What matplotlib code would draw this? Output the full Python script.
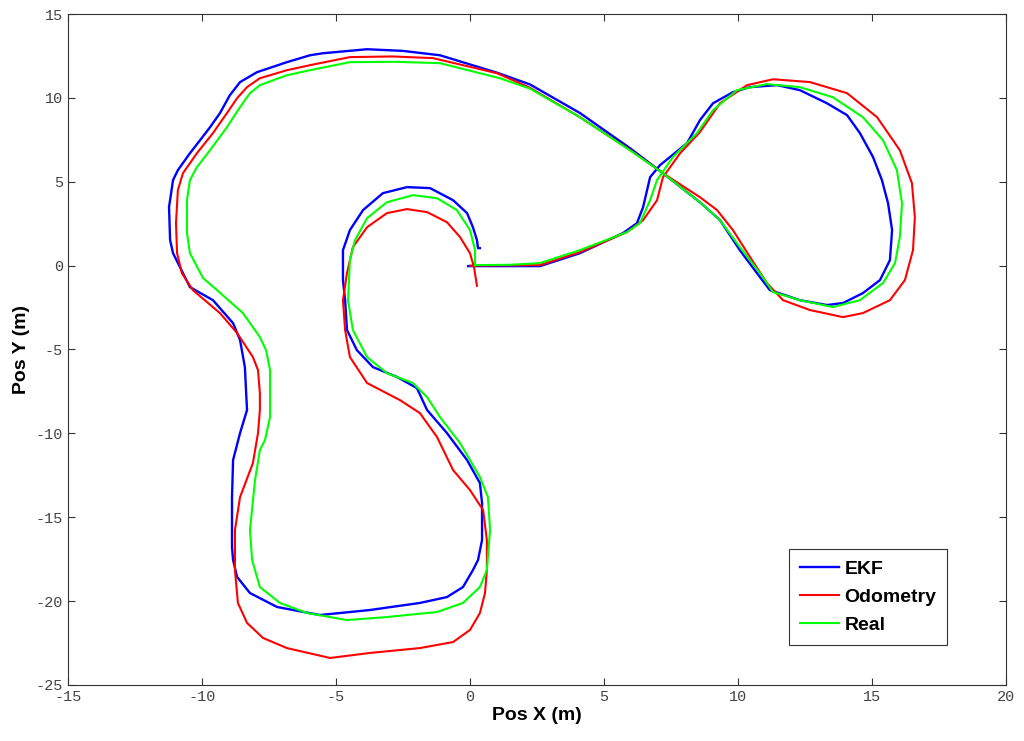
import matplotlib
matplotlib.use("Agg")
import matplotlib.pyplot as plt

plt.rcParams['axes.unicode_minus'] = False

# trajectories (metres)
real_x = [0.19, 1.5, 2.61, 4.1, 5.86, 6.34, 6.72, 6.98, 7.57, 8.47, 9.07, 9.96, 11.08, 12.31, 13.54,
          14.66, 15.41, 15.93, 16.12, 16.04, 15.86, 15.41, 14.55, 13.54, 12.31, 11.31, 10.82, 10.07,
          9.33, 8.58, 7.2, 5.97, 4.1, 2.24, 1.12, -1.12, -2.8, -4.48, -5.97, -6.83, -7.84, -8.21,
          -8.58, -9.07, -9.7, -10.19, -10.45, -10.56, -10.56, -10.45, -9.96, -9.44, -8.47, -7.84,
          -7.61, -7.46, -7.46, -7.46, -7.65, -7.84, -8.02, -8.21, -8.13, -7.84, -7.09, -6.08, -4.59,
          -3.1, -1.23, -0.26, 0.37, 0.63, 0.75, 0.67, 0.37, -0.37, -1.12, -1.6, -2.13, -3.1, -3.84,
          -4.37, -4.55, -4.48, -4.29, -3.84, -3.1, -2.13, -1.23, -0.49, 0.0, 0.19, 0.19]
real_y = [0.03, 0.05, 0.15, 0.92, 2.0, 2.53, 3.9, 5.1, 6.47, 7.9, 9.27, 10.46, 10.82, 10.64, 10.04,
          8.85, 7.48, 5.69, 3.72, 1.7, 0.15, -1.04, -2.06, -2.47, -2.06, -1.58, -0.45, 1.1,
          2.71, 3.78, 5.51, 6.88, 8.85, 10.55, 11.17, 12.07, 12.15, 12.13, 11.65, 11.35, 10.76, 10.28,
          9.45, 8.25, 6.88, 5.87, 5.1, 3.9, 1.94, 0.74, -0.74, -1.46, -2.83, -4.26,
          -5.04, -6.23, -7.72, -9.03, -10.4, -11.0, -12.78, -15.76, -17.55, -19.16, -20.11, -20.71, -21.13,
          -20.95, -20.65, -20.11, -19.16, -18.15, -15.76, -13.8, -12.6, -10.58, -9.03, -7.84, -7.0, -6.41, -5.45,
          -3.84, -2.06, 0.33, 1.52, 2.83, 3.78, 4.2, 4.02, 3.31, 2.12, 0.92, 0.03]

odo_x = [0.0, 2.61, 4.1, 5.86, 6.46, 6.98, 7.2, 7.84, 8.58, 9.33, 10.34, 11.31, 12.69, 14.07, 15.19,
         16.04, 16.49, 16.6, 16.53, 16.23, 15.67, 14.66, 13.92, 12.69, 11.68, 11.08, 10.45, 9.81, 9.22,
         8.58, 7.2, 5.97, 4.1, 2.24, 1.01, -1.38, -2.9, -4.48, -5.97, -6.83, -7.84, -8.32, -8.69,
         -9.07, -9.59, -10.19, -10.71, -10.9, -10.97, -10.93, -10.75, -10.34, -9.33, -8.69, -8.1,
         -7.91, -7.84, -7.84, -7.91, -8.1, -8.58, -8.77, -8.77, -8.66, -8.32, -7.72, -6.83, -5.22,
         -3.73, -1.87, -0.63, 0.0, 0.37, 0.56, 0.63, 0.63, 0.49, 0.0, -0.63, -1.23, -1.87, -2.61,
         -3.84, -4.48, -4.66, -4.74, -4.59, -4.37, -3.84, -3.1, -2.35, -1.6, -0.86, -0.37, 0.0, 0.15, 0.26]
odo_y = [0.0, 0.03, 0.8, 2.0, 2.71, 3.9, 5.27, 6.7, 7.96, 9.68, 10.76, 11.11, 10.94, 10.28, 8.85,
         6.88, 4.92, 2.89, 0.92, -0.86, -2.06, -2.83, -3.07, -2.65, -2.06, -1.04, 0.51, 2.12, 3.31,
         4.08, 5.51, 6.9, 8.85, 10.6, 11.47, 12.37, 12.47, 12.43, 11.95, 11.65, 11.17, 10.64, 9.98,
         9.09, 7.9, 6.7, 5.51, 4.5, 2.53, 0.74, -0.45, -1.46, -2.83, -4.02, -5.45,
         -6.23, -7.6, -8.61, -9.98, -11.77, -13.8, -15.76, -18.15, -20.11, -21.3, -22.2, -22.8, -23.39,
         -23.09, -22.8, -22.44, -21.72, -20.71, -19.52, -18.15, -16.36, -14.57, -13.38, -12.19, -10.22, -8.79, -8.02,
         -7.0, -5.45, -3.84, -2.06, -0.45, 1.1, 2.29, 3.13, 3.37, 3.19, 2.59, 1.7, 0.74, -0.09, -1.2]

ekf_x = [-0.07, 2.61, 4.1, 5.71, 6.23, 6.46, 6.72, 7.09, 8.1, 8.58, 9.07, 9.81, 10.45, 11.46, 12.31,
         13.32, 14.07, 14.55, 15.04, 15.37, 15.6, 15.75, 15.67, 15.3, 14.66, 13.92, 13.32, 12.31, 11.19,
         10.71, 10.07, 9.33, 8.58, 7.2, 5.97, 4.1, 2.24, 1.01, -1.12, -2.5, -3.84, -5.49, -5.97, -6.83,
         -7.95, -8.58, -8.96, -9.33, -9.7, -10.07, -10.45, -10.9, -11.08, -11.23, -11.19, -11.08,
         -10.71, -10.45, -9.59, -8.84, -8.58, -8.4, -8.32, -8.58, -8.84, -8.88, -8.88, -8.84, -8.69,
         -8.21, -7.2, -5.6, -3.73, -1.87, -0.86, -0.26, 0.11, 0.3, 0.45, 0.45, 0.37, -0.11, -0.86,
         -1.6, -1.98, -2.72, -3.62, -4.22, -4.59, -4.66, -4.74, -4.74, -4.48, -3.99, -3.25, -2.35,
         -1.49, -0.63, -0.11, 0.11, 0.26, 0.3, 0.37]
ekf_y = [-0.03, -0.03, 0.74, 1.94, 2.53, 3.49, 5.27, 5.99, 7.3, 8.67, 9.68, 10.34, 10.64, 10.76, 10.46,
         9.68, 8.97, 7.9, 6.47, 5.1, 3.72, 2.12, 0.33, -0.86, -1.64, -2.23, -2.35, -2.06, -1.46,
         -0.45, 0.92, 2.71, 3.78, 5.51, 7.0, 9.1, 10.8, 11.5, 12.54, 12.8, 12.9, 12.66, 12.54, 12.13,
         11.53, 10.94, 10.16, 9.09, 8.25, 7.48, 6.7, 5.69, 5.1, 3.49, 1.52, 0.74,
         -0.45, -1.28, -2.06, -3.43, -4.44, -6.05, -8.61, -9.98, -11.59, -13.8, -16.78, -17.55, -18.56,
         -19.52, -20.35, -20.83, -20.53, -20.11, -19.76, -19.16, -18.15, -17.55, -16.36, -14.15, -12.96, -11.59, -9.98,
         -8.61, -7.3, -6.64, -6.05, -5.04, -3.84, -2.06, -0.86, 0.92, 2.12, 3.31, 4.32, 4.68,
         4.62, 3.9, 3.13, 2.29, 1.52, 1.04, 1.04]

fig = plt.figure(figsize=(10.24, 7.41), dpi=100)
ax = fig.add_axes([0.0664, 0.0756, 0.916, 0.9055])

ax.plot(ekf_x, ekf_y, color=(0, 0, 1), lw=1.7, label='EKF')
ax.plot(odo_x, odo_y, color=(1, 0, 0), lw=1.5, label='Odometry')
ax.plot(real_x, real_y, color=(0, 1, 0), lw=1.5, label='Real')

ax.set_xlim(-15, 20)
ax.set_ylim(-25, 15)
ax.set_xticks(range(-15, 21, 5))
ax.set_yticks(range(-25, 16, 5))
ax.tick_params(direction='in', length=5, top=True, right=True, colors='#333333',
               labelsize=11, labelcolor='#444444')
for lab in ax.get_xticklabels() + ax.get_yticklabels():
    lab.set_family('Liberation Mono')
for s in ax.spines.values():
    s.set_color('#333333')
    s.set_linewidth(0.8)

ax.set_xlabel('Pos X (m)', fontsize=14, fontweight='bold', family='Liberation Sans', labelpad=2)
ax.set_ylabel('Pos Y (m)', fontsize=14, fontweight='bold', family='Liberation Sans', labelpad=4)

leg = ax.legend(loc='lower left', bbox_to_anchor=(0.769, 0.0596), fancybox=False, framealpha=1,
                edgecolor='#333333', handlelength=2.0, borderpad=0.55, labelspacing=0.55,
                handletextpad=0.3, borderaxespad=0,
                prop={'family': 'Liberation Sans', 'weight': 'bold', 'size': 14})
leg.get_frame().set_linewidth(0.8)

fig.savefig('out.png', dpi=100)
